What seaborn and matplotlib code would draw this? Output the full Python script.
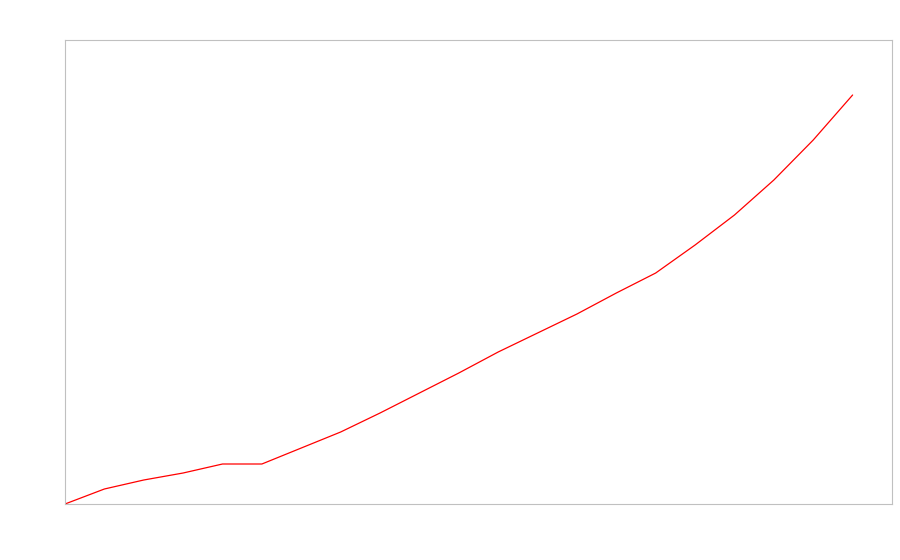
import matplotlib
matplotlib.use("Agg")
import matplotlib.pyplot as plt
import seaborn as sns
import pandas as pd

# values
steps = list(range(21))
values = [0, 15, 24, 31, 40, 40, 56, 72, 91, 111, 131, 152, 171, 190, 211,
          231, 259, 289, 324, 364, 409]

df = pd.DataFrame({"step": steps, "value": values})

sns.set_style("white")
fig = plt.figure(figsize=(9, 5.6), dpi=100)
ax = fig.add_axes([65 / 900, 56 / 560, 827 / 900, 464 / 560])

sns.lineplot(data=df, x="step", y="value", color="red", linewidth=0.9, ax=ax)

ax.set_xlim(0, 21)
ax.set_ylim(0, 464)
ax.set_xticks([])
ax.set_yticks([])
ax.set_xlabel("")
ax.set_ylabel("")
for s in ax.spines.values():
    s.set_color("#c0c0c0")
    s.set_linewidth(0.8)

fig.savefig("out.png", dpi=100)
